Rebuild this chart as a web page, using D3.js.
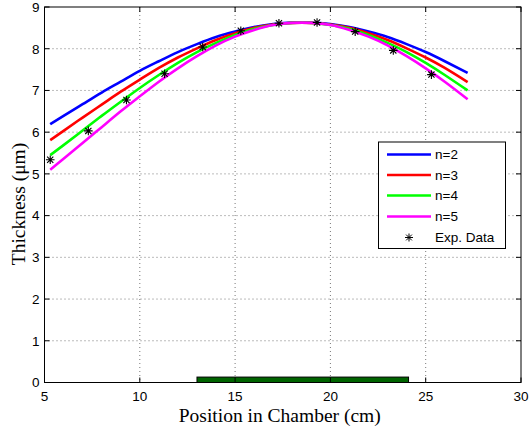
<!DOCTYPE html>
<html><head><meta charset="utf-8">
<script src="https://cdn.jsdelivr.net/npm/d3@7"></script>
<style>body{margin:0;background:#fff}svg{display:block}</style>
</head><body><svg id="c" width="529" height="428"></svg>
<script>
// ---- data ----
const xFit = [5.3,6,7,8,9,10,11,12,13,14,15,16,17,18,19,20,21,22,23,24,25,26,27.2];
const n2 = [6.19,6.39,6.67,6.95,7.21,7.47,7.70,7.92,8.11,8.28,8.41,8.52,8.59,8.63,8.63,8.59,8.52,8.41,8.28,8.11,7.92,7.70,7.42];
const n3 = [5.81,6.03,6.35,6.66,6.97,7.26,7.54,7.79,8.01,8.21,8.37,8.50,8.58,8.62,8.62,8.58,8.50,8.37,8.21,8.01,7.79,7.54,7.20];
const n4 = [5.45,5.69,6.04,6.39,6.73,7.06,7.37,7.66,7.92,8.14,8.33,8.48,8.57,8.62,8.62,8.57,8.48,8.33,8.14,7.92,7.66,7.37,7.00];
const n5 = [5.10,5.36,5.74,6.12,6.50,6.86,7.21,7.53,7.82,8.08,8.29,8.45,8.57,8.62,8.62,8.57,8.45,8.29,8.08,7.82,7.53,7.21,6.79];
const expX = [5.3,7.3,9.3,11.3,13.3,15.3,17.3,19.3,21.3,23.3,25.3];
const expY = [5.34,6.03,6.77,7.40,8.04,8.43,8.61,8.63,8.41,7.96,7.38];
const seriesNames = ["n=2","n=3","n=4","n=5"];
const expName = "Exp. Data";
const xTicks = [5,10,15,20,25,30];
const yTicks = [0,1,2,3,4,5,6,7,8,9];
const sourceStart = [13.0], sourceEnd = [24.1], sourceHeight = [0.13];
const xTitle = "Position in Chamber (cm)";
const yTitle = "Thickness (\u03bcm)";

// ---- styles ----
const colors = ["#0000ff","#ff0000","#00ff00","#ff00ff"];
const series = [n2,n3,n4,n5];

const svg = d3.select("#c");
svg.append("rect").attr("width",529).attr("height",428).attr("fill","#fff");
const L = 44.5, R = 521, T = 7, B = 382.5;
const x = d3.scaleLinear().domain([5,30]).range([L,R]);
const y = d3.scaleLinear().domain([0,9]).range([B,T]);

// grid
const g = svg.append("g");
g.selectAll(".vg").data(xTicks.slice(1,-1)).join("line")
  .attr("x1",d=>x(d)).attr("x2",d=>x(d)).attr("y1",T).attr("y2",B)
  .attr("stroke","#555").attr("stroke-width",0.8).attr("stroke-dasharray","1,3");
g.selectAll(".hg").data(yTicks.slice(1,-1)).join("line")
  .attr("x1",L).attr("x2",R).attr("y1",d=>y(d)).attr("y2",d=>y(d))
  .attr("stroke","#555").attr("stroke-width",0.8).attr("stroke-dasharray","1,3");

// source bar
svg.append("rect")
  .attr("x",x(sourceStart[0])).attr("y",y(sourceHeight[0]))
  .attr("width",x(sourceEnd[0])-x(sourceStart[0]))
  .attr("height",y(0)-y(sourceHeight[0]))
  .attr("fill","#006400").attr("stroke","#000").attr("stroke-width",1);

// lines
const line = d3.line().x((d,i)=>x(xFit[i])).y(d=>y(d)).curve(d3.curveNatural);
series.forEach((s,k)=>{
  svg.append("path").attr("d",line(s)).attr("fill","none")
    .attr("stroke",colors[k]).attr("stroke-width",2.6).attr("stroke-linecap","butt");
});

// star marker
function star(cx,cy,r){
  const d=r*0.72;
  return `M${cx-r},${cy}L${cx+r},${cy}M${cx},${cy-r}L${cx},${cy+r}`+
         `M${cx-d},${cy-d}L${cx+d},${cy+d}M${cx-d},${cy+d}L${cx+d},${cy-d}`;
}
svg.selectAll(".st").data(expX).join("path")
  .attr("d",(d,i)=>star(x(d),y(expY[i]),4.3))
  .attr("stroke","#000").attr("stroke-width",1.1).attr("fill","none");

// box
svg.append("rect").attr("x",L).attr("y",T).attr("width",R-L).attr("height",B-T)
  .attr("fill","none").attr("stroke","#000").attr("stroke-width",1);

// ticks (inward, all four sides)
const tk = 5;
xTicks.forEach(v=>{
  svg.append("line").attr("x1",x(v)).attr("x2",x(v)).attr("y1",B).attr("y2",B-tk).attr("stroke","#000");
  svg.append("line").attr("x1",x(v)).attr("x2",x(v)).attr("y1",T).attr("y2",T+tk).attr("stroke","#000");
});
yTicks.forEach(v=>{
  svg.append("line").attr("x1",L).attr("x2",L+tk).attr("y1",y(v)).attr("y2",y(v)).attr("stroke","#000");
  svg.append("line").attr("x1",R).attr("x2",R-tk).attr("y1",y(v)).attr("y2",y(v)).attr("stroke","#000");
});

// tick labels
const tf = "'Liberation Sans', Arial, sans-serif";
svg.selectAll(".xl").data(xTicks).join("text")
  .attr("x",d=>x(d)).attr("y",401).attr("text-anchor","middle")
  .attr("font-family",tf).attr("font-size",13.5).text(d=>d);
svg.selectAll(".yl").data(yTicks).join("text")
  .attr("x",39.5).attr("y",d=>y(d)+4.8).attr("text-anchor","end")
  .attr("font-family",tf).attr("font-size",13.5).text(d=>d);

// titles
const sf = "'Liberation Serif', 'Times New Roman', serif";
svg.append("text").attr("x",(L+R)/2-3).attr("y",422).attr("text-anchor","middle")
  .attr("font-family",sf).attr("font-size",19.5).text(xTitle);
svg.append("text").attr("transform","translate(25,204) rotate(-90)").attr("text-anchor","middle")
  .attr("font-family",sf).attr("font-size",19.5).text(yTitle);

// legend
const lg = svg.append("g");
lg.append("rect").attr("x",378.5).attr("y",142).attr("width",127).attr("height",106.5)
  .attr("fill","#fff").attr("stroke","#000").attr("stroke-width",1);
const rowY = [154.5,175,195.5,216.5,237.5];
seriesNames.forEach((nm,k)=>{
  lg.append("line").attr("x1",387).attr("x2",431).attr("y1",rowY[k]).attr("y2",rowY[k])
    .attr("stroke",colors[k]).attr("stroke-width",2.6);
  lg.append("text").attr("x",435).attr("y",rowY[k]+4.8).attr("font-family",tf)
    .attr("font-size",13.5).text(nm);
});
lg.append("path").attr("d",star(409,rowY[4],4)).attr("stroke","#000").attr("fill","none");
lg.append("text").attr("x",435).attr("y",rowY[4]+4.8).attr("font-family",tf)
  .attr("font-size",13.5).text(expName);
</script></body></html>
